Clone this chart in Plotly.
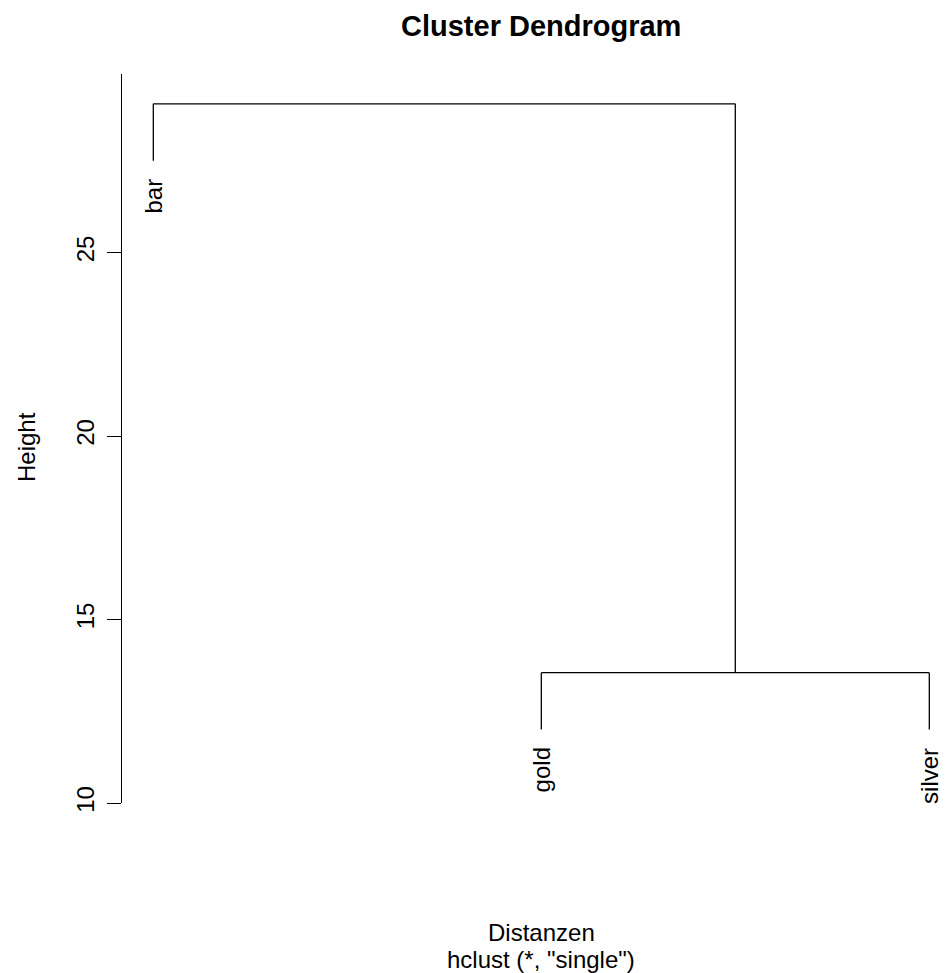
import plotly.graph_objects as go

# Leaves in plotting order and the merge heights of the single-linkage tree
labels = ["bar", "gold", "silver"]
# merges: (left child, right child, height); negative = leaf index, positive = earlier merge
merges = [(-2, -3, 13.55), (-1, 1, 29.05)]
y_ticks = [10, 15, 20, 25]

title_text = "Cluster Dendrogram"
x_title = "Distanzen"
sub_title = 'hclust (*, "single")'

FONT = "Liberation Sans, Arial, Helvetica, sans-serif"
W, H = 947, 973
L, T, B = 122, 74, 170
CX = 541  # horizontal centre of the plotting region

heights = [m[2] for m in merges]
hang = 0.1 * (max(heights) - min(heights))

# leaf x positions are 1..n, merge x is the mean of the two children
pos = {}
top = {}
for i, _ in enumerate(labels):
    pos[-(i + 1)] = i + 1

xs, ys = [], []
leaf_ends = {}
for k, (a, b, h) in enumerate(merges, start=1):
    for c in (a, b):
        cx = pos[c]
        if c < 0:
            cy = h - hang
            leaf_ends[c] = cy
        else:
            cy = top[c]
        xs += [cx, cx, None]
        ys += [cy, h, None]
    xs += [pos[a], pos[b], None]
    ys += [h, h, None]
    pos[k] = (pos[a] + pos[b]) / 2
    top[k] = h

fig = go.Figure()
fig.add_trace(go.Scatter(x=xs, y=ys, mode="lines",
                         line=dict(color="black", width=1.3),
                         hoverinfo="skip", showlegend=False))

annotations = []
for i, name in enumerate(labels):
    c = -(i + 1)
    annotations.append(dict(x=pos[c], y=leaf_ends[c], xref="x", yref="y",
                            text=name, textangle=-90, showarrow=False,
                            xanchor="center", yanchor="top", yshift=-16,
                            font=dict(family=FONT, size=24, color="black")))

plot_w = W - L
plot_h = H - T - B
cx_paper = (CX - L) / plot_w
annotations += [
    dict(x=cx_paper, y=1, xref="paper", yref="paper", yanchor="middle",
         yshift=T - 26, text="<b>" + title_text + "</b>", showarrow=False,
         font=dict(family=FONT, size=29, color="black")),
    dict(x=cx_paper, y=0, xref="paper", yref="paper", yanchor="middle",
         yshift=-(932 - (H - B)), text=x_title, showarrow=False,
         font=dict(family=FONT, size=24, color="black")),
    dict(x=cx_paper, y=0, xref="paper", yref="paper", yanchor="middle",
         yshift=-(959 - (H - B)), text=sub_title, showarrow=False,
         font=dict(family=FONT, size=24, color="black")),
    dict(x=0, y=(H - B - 447) / plot_h, xref="paper", yref="paper",
         xanchor="center", yanchor="middle", xshift=26 - L,
         text="Height", textangle=-90, showarrow=False,
         font=dict(family=FONT, size=24, color="black")),
]

px_per_x = 388.0
x0 = 1 - (153.3 - L) / px_per_x
x1 = x0 + plot_w / px_per_x
y_top = 10 + (803 - T) / 36.7

fig.update_layout(
    width=W, height=H,
    margin=dict(l=L, r=0, t=T, b=B, pad=0),
    paper_bgcolor="white", plot_bgcolor="white",
    xaxis=dict(range=[x0, x1], visible=False, fixedrange=True),
    yaxis=dict(range=[10, y_top], tickvals=y_ticks, ticktext=[str(v) for v in y_ticks],
               showline=True, linecolor="black", linewidth=1.3,
               ticks="outside", ticklen=14, tickwidth=1.3, tickcolor="black",
               tickangle=-90, showgrid=False, zeroline=False,
               ticklabelstandoff=3,
               tickfont=dict(family=FONT, size=24, color="black"),
               fixedrange=True),
    annotations=annotations,
    showlegend=False,
)

fig.write_html("out.html")
